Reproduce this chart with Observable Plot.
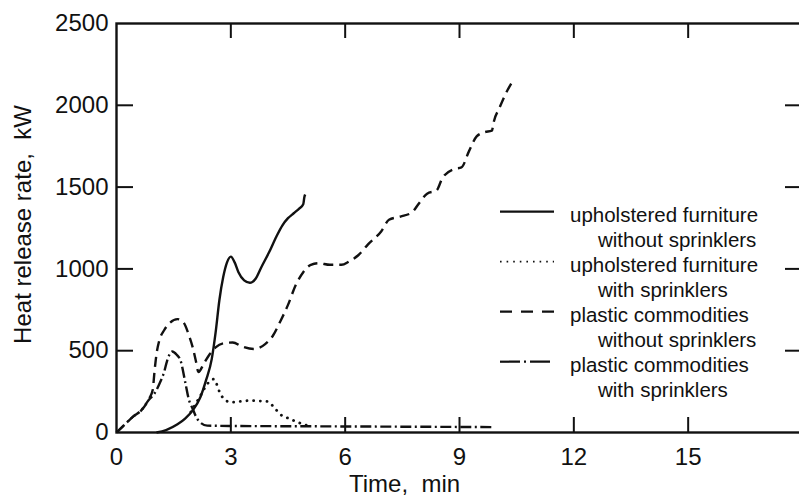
<!DOCTYPE html>
<html><head><meta charset="utf-8">
<script src="https://cdn.jsdelivr.net/npm/d3@7"></script>
<script src="https://cdn.jsdelivr.net/npm/@observablehq/plot@0.6"></script>
<style>
html,body{margin:0;padding:0;background:#fff;overflow:hidden}
#wrap{position:relative;width:799px;height:497px;overflow:hidden}
#wrap svg{overflow:hidden}
#legend{position:absolute;left:0;top:0;pointer-events:none}
</style></head><body><div id="wrap"></div>
<script>
// Upholstered furniture without sprinklers (solid)
const ufNoT = [1.05,1.3,1.6,1.8,2.0,2.2,2.35,2.5,2.6,2.7,2.8,2.9,3.0,3.1,3.2,3.35,3.5,3.65,3.8,4.0,4.2,4.35,4.5,4.65,4.8,4.9,4.93,4.95];
const ufNoV = [0,15,50,85,135,215,320,450,610,810,950,1040,1075,1040,980,930,915,940,1010,1100,1200,1265,1310,1340,1370,1395,1440,1455];
// Upholstered furniture with sprinklers (dotted)
const ufSpT = [1.95,2.2,2.38,2.55,2.62,2.7,2.82,3.0,3.25,3.5,3.8,3.96,4.13,4.3,4.5,4.7,4.9,5.1];
const ufSpV = [125,224,296,326,300,250,205,185,190,195,192,190,155,110,88,68,50,38];
// Plastic commodities without sprinklers (dashed)
const pcNoT = [0,0.2,0.45,0.65,0.85,0.95,1.0,1.05,1.12,1.25,1.4,1.6,1.75,1.9,2.0,2.08,2.15,2.3,2.45,2.6,2.8,3.05,3.3,3.6,3.9,4.1,4.3,4.5,4.7,4.9,5.1,5.3,5.6,5.9,6.1,6.35,6.6,6.95,7.15,7.45,7.75,7.95,8.15,8.4,8.55,8.85,9.05,9.25,9.45,9.65,9.85,9.9,10.05,10.2,10.4];
const pcNoV = [0,45,100,135,205,260,380,480,560,625,670,693,675,595,520,440,370,425,480,520,545,550,525,510,540,590,680,780,900,980,1025,1035,1025,1025,1045,1085,1150,1230,1300,1320,1345,1405,1460,1480,1555,1610,1620,1720,1810,1835,1845,1900,1985,2065,2150];
// Plastic commodities with sprinklers (dash-dot)
const pcSpT = [0,0.2,0.45,0.65,0.85,1.0,1.15,1.25,1.33,1.46,1.58,1.68,1.81,1.9,1.99,2.08,2.16,2.38,3,5,7,9,9.9];
const pcSpV = [0,45,100,135,200,240,310,370,440,495,475,440,300,200,150,100,70,42,40,38,36,34,33];

const xTickLabels = [0,3,6,9,12,15];
const yTickLabels = [0,500,1000,1500,2000,2500];
const xInnerTicks = [3,6,9,12,15];
const yInnerTicks = [500,1000,1500,2000];
const xTitle = "Time,\u00a0 min";
const yTitle = "Heat release rate,\u00a0 kW";
const legendLabels = [
  ["upholstered furniture","without sprinklers"],
  ["upholstered furniture","with sprinklers"],
  ["plastic commodities","without sprinklers"],
  ["plastic commodities","with sprinklers"]
];

const styles = [
  {dash: null, cap: "butt"},
  {dash: "0.1,6.6", cap: "round"},
  {dash: "10,6", cap: "butt"},
  {dash: "11,3.5,2,3.5", cap: "butt"}
];
const seriesData = [[ufNoT,ufNoV],[ufSpT,ufSpV],[pcNoT,pcNoV],[pcSpT,pcSpV]];

const lineMarks = seriesData.map(([ts,vs],i) => Plot.line(
  ts.map((t,j)=>({t, v: vs[j]})),
  {x:"t", y:"v", stroke:"#111", strokeWidth: i===1 ? 2.8 : 2.4,
   strokeDasharray: styles[i].dash, strokeLinecap: styles[i].cap, curve:"monotone-x"}
));

const font = "'Liberation Sans', Arial, Helvetica, sans-serif";
const chart = Plot.plot({
  width: 799, height: 497,
  marginLeft: 116, marginRight: -3, marginTop: 23, marginBottom: 65,
  style: {fontFamily: font, fontSize: "24px", color: "#111", background: "white"},
  x: {domain: [0, 18]},
  y: {domain: [0, 2500]},
  marks: [
    Plot.axisX(xTickLabels, {tickSize: 0, tickPadding: 15, fontSize: 24, label: null, tickFormat: d => String(d)}),
    Plot.axisY(yTickLabels, {tickSize: 0, tickPadding: 8, fontSize: 24, label: null, tickFormat: d => String(d)}),
    Plot.tickX(xInnerTicks, {x: d=>d, insetTop: 394, stroke:"#111", strokeWidth: 2}),
    Plot.tickX(xInnerTicks, {x: d=>d, insetBottom: 394, stroke:"#111", strokeWidth: 2}),
    Plot.tickY(yInnerTicks, {y: d=>d, insetRight: 669, stroke:"#111", strokeWidth: 2}),
    Plot.tickY(yInnerTicks, {y: d=>d, insetLeft: 669, stroke:"#111", strokeWidth: 2}),
    ...lineMarks,
    Plot.frame({stroke:"#111", strokeWidth: 2.4}),
    Plot.text([xTitle], {text: d=>d, frameAnchor: "bottom", textAnchor: "middle", dx: -55, dy: 52, fontSize: 24, lineAnchor: "middle", fill:"#111"}),
    Plot.text([yTitle], {text: d=>d, frameAnchor: "left", textAnchor: "middle", rotate: -90, dx: -93.5, dy: -3.5, fontSize: 24, lineAnchor: "middle", fill:"#111"})
  ]
});
const wrap = document.getElementById("wrap");
wrap.appendChild(chart);

// Legend overlay
const leg = d3.select(wrap).append("svg").attr("id","legend").attr("width",799).attr("height",497)
  .style("font-family", font).style("font-size","20.5px").attr("fill","#111");
legendLabels.forEach((lab,i) => {
  const base = 221.7 + i*50;
  leg.append("line").attr("x1",500).attr("x2",554).attr("y1",base-10).attr("y2",base-10)
    .attr("stroke","#111").attr("stroke-width", i===1 ? 1.8 : 2.2)
    .attr("stroke-dasharray", i===0 ? null : i===1 ? "1.6,5" : i===2 ? "12,9" : "20,4,2,4")
    .attr("stroke-linecap","butt");
  leg.append("text").attr("x",570).attr("y",base).text(lab[0]);
  leg.append("text").attr("x",598).attr("y",base+25).text(lab[1]);
});
</script></body></html>
